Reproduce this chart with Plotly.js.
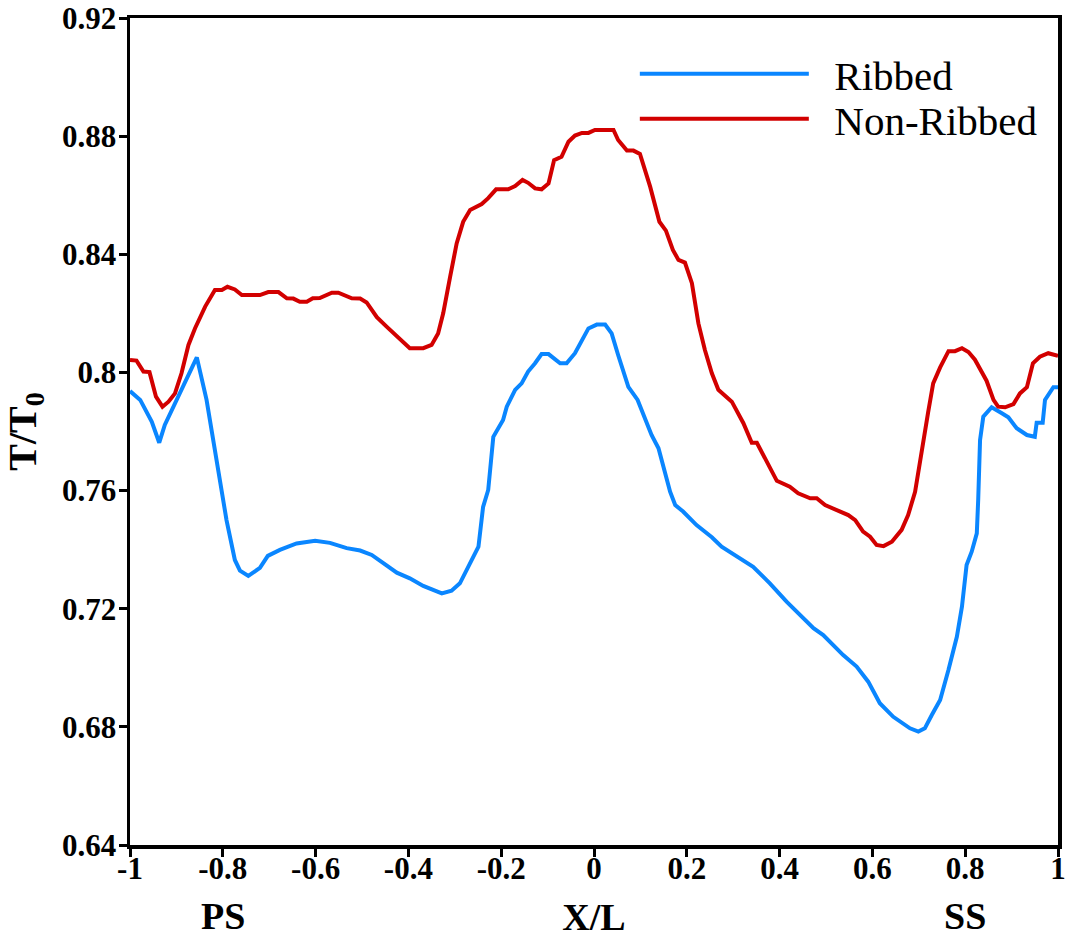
<!DOCTYPE html>
<html>
<head>
<meta charset="utf-8">
<script src="https://cdn.plot.ly/plotly-3.0.1.min.js"></script>
<style>html,body{margin:0;padding:0;background:#fff;}#chart{width:1074px;height:938px;}</style>
</head>
<body>
<div id="chart"></div>
<script>
const ribbedX = [-1.000,-0.978,-0.953,-0.937,-0.925,-0.856,-0.835,-0.813,-0.792,-0.774,-0.763,-0.745,-0.720,-0.703,-0.677,-0.641,-0.601,-0.569,-0.533,-0.504,-0.479,-0.454,-0.425,-0.397,-0.368,-0.328,-0.307,-0.289,-0.278,-0.260,-0.249,-0.239,-0.228,-0.217,-0.196,-0.188,-0.170,-0.156,-0.142,-0.127,-0.113,-0.098,-0.084,-0.073,-0.059,-0.041,-0.012,0.006,0.024,0.038,0.052,0.074,0.094,0.106,0.124,0.139,0.153,0.164,0.175,0.192,0.221,0.254,0.275,0.311,0.343,0.379,0.415,0.473,0.494,0.537,0.566,0.591,0.616,0.645,0.681,0.699,0.713,0.728,0.746,0.764,0.782,0.793,0.803,0.814,0.825,0.828,0.832,0.839,0.857,0.879,0.893,0.911,0.933,0.950,0.954,0.967,0.972,0.990,1.000];
const ribbedY = [0.7937,0.7907,0.7833,0.7762,0.7822,0.8051,0.7907,0.7704,0.7500,0.7365,0.7329,0.7311,0.7338,0.7379,0.7399,0.7421,0.7430,0.7423,0.7405,0.7397,0.7382,0.7354,0.7322,0.7303,0.7277,0.7252,0.7261,0.7286,0.7320,0.7376,0.7410,0.7545,0.7602,0.7782,0.7839,0.7884,0.7941,0.7963,0.8003,0.8031,0.8062,0.8062,0.8044,0.8031,0.8031,0.8065,0.8149,0.8162,0.8162,0.8132,0.8059,0.7951,0.7907,0.7862,0.7788,0.7743,0.7658,0.7596,0.7551,0.7529,0.7483,0.7442,0.7410,0.7376,0.7342,0.7286,0.7224,0.7134,0.7111,0.7043,0.7004,0.6953,0.6880,0.6834,0.6795,0.6784,0.6795,0.6840,0.6891,0.6993,0.7105,0.7207,0.7348,0.7393,0.7455,0.7568,0.7771,0.7850,0.7882,0.7862,0.7848,0.7811,0.7788,0.7782,0.7830,0.7830,0.7907,0.7950,0.7950];

const nonRibbedX = [-1.000,-0.986,-0.971,-0.958,-0.944,-0.930,-0.917,-0.903,-0.889,-0.874,-0.860,-0.838,-0.817,-0.802,-0.790,-0.774,-0.759,-0.720,-0.702,-0.680,-0.662,-0.648,-0.634,-0.619,-0.606,-0.591,-0.565,-0.551,-0.522,-0.504,-0.490,-0.468,-0.447,-0.397,-0.368,-0.350,-0.336,-0.325,-0.310,-0.296,-0.282,-0.267,-0.242,-0.228,-0.211,-0.185,-0.170,-0.154,-0.142,-0.127,-0.113,-0.098,-0.086,-0.070,-0.055,-0.041,-0.026,-0.012,0.002,0.042,0.052,0.071,0.085,0.099,0.121,0.141,0.155,0.170,0.182,0.196,0.211,0.225,0.239,0.254,0.268,0.297,0.322,0.340,0.351,0.365,0.394,0.422,0.440,0.466,0.480,0.498,0.548,0.563,0.580,0.595,0.609,0.624,0.642,0.663,0.677,0.692,0.706,0.720,0.731,0.746,0.764,0.778,0.793,0.807,0.821,0.846,0.861,0.871,0.886,0.904,0.918,0.933,0.946,0.961,0.979,0.990,1.000];
const nonRibbedY = [0.8042,0.8040,0.8003,0.8001,0.7918,0.7884,0.7901,0.7929,0.7997,0.8093,0.8149,0.8223,0.8279,0.8279,0.8290,0.8281,0.8262,0.8262,0.8272,0.8272,0.8251,0.8250,0.8239,0.8239,0.8251,0.8252,0.8270,0.8270,0.8251,0.8250,0.8237,0.8187,0.8155,0.8082,0.8082,0.8093,0.8132,0.8200,0.8324,0.8437,0.8510,0.8550,0.8570,0.8590,0.8620,0.8620,0.8631,0.8652,0.8642,0.8623,0.8620,0.8640,0.8719,0.8730,0.8781,0.8802,0.8811,0.8811,0.8821,0.8821,0.8787,0.8751,0.8751,0.8740,0.8629,0.8510,0.8480,0.8415,0.8381,0.8372,0.8302,0.8166,0.8076,0.7997,0.7941,0.7901,0.7828,0.7762,0.7762,0.7720,0.7633,0.7613,0.7591,0.7574,0.7574,0.7551,0.7517,0.7500,0.7461,0.7444,0.7416,0.7412,0.7427,0.7467,0.7517,0.7596,0.7740,0.7864,0.7963,0.8017,0.8072,0.8072,0.8082,0.8069,0.8043,0.7972,0.7907,0.7884,0.7882,0.7893,0.7929,0.7950,0.8031,0.8053,0.8065,0.8062,0.8056];

const xTickVals = [-1,-0.8,-0.6,-0.4,-0.2,0,0.2,0.4,0.6,0.8,1];
const xTickText = ['-1','-0.8','-0.6','-0.4','-0.2','0','0.2','0.4','0.6','0.8','1'];
const yTickVals = [0.64,0.68,0.72,0.76,0.8,0.84,0.88,0.92];
const yTickText = ['0.64','0.68','0.72','0.76','0.8','0.84','0.88','0.92'];
const seriesNames = ['Ribbed','Non-Ribbed'];
const sideLabels = ['PS','SS'];
const sideLabelX = [-0.8, 0.8];

const FONT = '"Liberation Serif", "Times New Roman", serif';
const GAP = '\u2002';

const traces = [
  {x: ribbedX, y: ribbedY, name: GAP + seriesNames[0], mode: 'lines', legend: 'legend',
   line: {color: '#0A86FF', width: 4}},
  {x: nonRibbedX, y: nonRibbedY, name: GAP + seriesNames[1], mode: 'lines', legend: 'legend2',
   line: {color: '#D20000', width: 4}}
];

const legendBase = {
  xanchor: 'left', yanchor: 'middle', bgcolor: 'rgba(0,0,0,0)', borderwidth: 0,
  font: {family: FONT, size: 41, color: '#000'}, itemwidth: 169
};

const layout = {
  width: 1074, height: 938,
  margin: {l: 130, r: 16, t: 18, b: 93},
  paper_bgcolor: '#fff', plot_bgcolor: '#fff',
  font: {family: FONT, color: '#000'},
  showlegend: true,
  legend: Object.assign({}, legendBase, {x: 0.544, y: 0.9323}),
  legend2: Object.assign({}, legendBase, {x: 0.544, y: 0.8779}),
  xaxis: {
    range: [-1, 1], tickvals: xTickVals, ticktext: xTickText,
    showgrid: false, zeroline: false, showline: true, linecolor: '#000', linewidth: 3.5, mirror: true,
    ticks: 'outside', ticklen: 8, tickwidth: 3, tickcolor: '#000', ticklabelstandoff: -15,
    tickfont: {family: FONT, size: 31, color: '#000', weight: 'bold'},
    title: {text: '<b>X/L</b>', font: {family: FONT, size: 38, color: '#000'}, standoff: 26}
  },
  yaxis: {
    range: [0.64, 0.92], tickvals: yTickVals, ticktext: yTickText,
    showgrid: false, zeroline: false, showline: true, linecolor: '#000', linewidth: 3.5, mirror: true,
    ticks: 'outside', ticklen: 8, tickwidth: 3, tickcolor: '#000', ticklabelstandoff: -4,
    tickfont: {family: FONT, size: 31, color: '#000', weight: 'bold'},
    title: {text: '<b>T/T<sub>0</sub></b>', font: {family: FONT, size: 40, color: '#000'}, standoff: 14}
  },
  annotations: sideLabels.map((t, i) => ({
    text: '<b>' + t + '</b>', x: sideLabelX[i], xref: 'x', y: -0.086, yref: 'paper',
    xanchor: 'center', yanchor: 'middle', showarrow: false, borderpad: 0,
    font: {family: FONT, size: 38, color: '#000'}
  }))
};

Plotly.newPlot('chart', traces, layout, {displayModeBar: false, staticPlot: true});
</script>
</body>
</html>
